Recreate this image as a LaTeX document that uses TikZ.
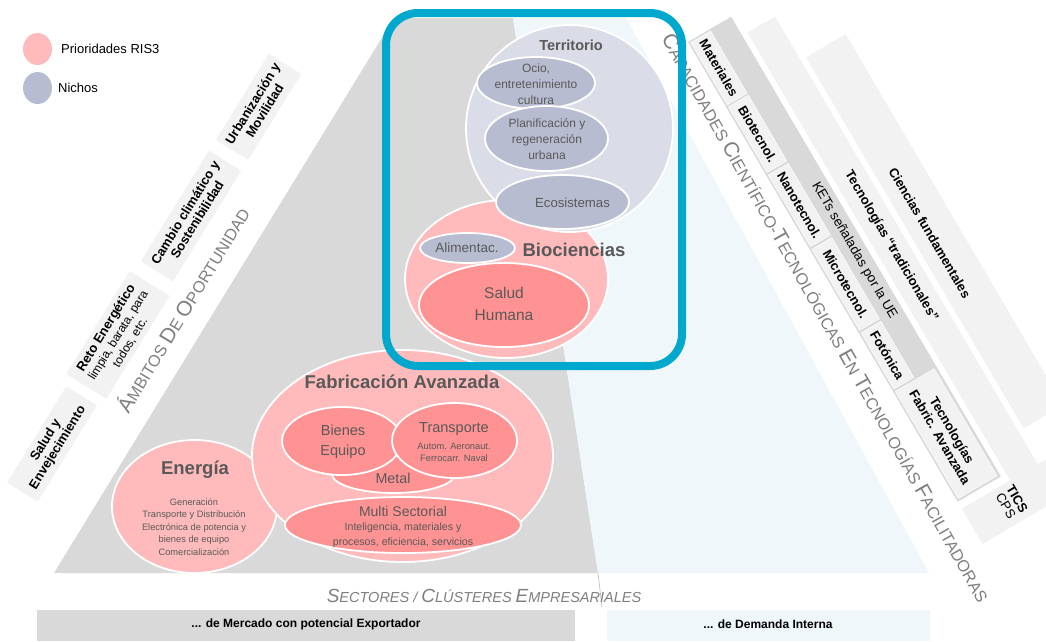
\documentclass[tikz,border=0pt]{standalone}
\usepackage{fontspec}
\setmainfont{Liberation Sans}
\usetikzlibrary{shapes.geometric}
\definecolor{gtri}{HTML}{D9D9D9}
\definecolor{btri}{HTML}{EFF7FA}
\definecolor{lbox}{HTML}{F2F2F2}
\definecolor{pinkL}{HTML}{FFBBBB}
\definecolor{pinkD}{HTML}{FF9292}
\definecolor{nicho}{HTML}{B7BCD0}
\definecolor{terr}{HTML}{DADDE7}
\definecolor{tealc}{HTML}{00A8CE}
\definecolor{txtg}{HTML}{595959}
\definecolor{capg}{HTML}{7F7F7F}
\newcommand\fsz[2]{\fontsize{#1}{#2}\selectfont}
\newcommand\bigL[1]{{\fsz{21}{21}#1}}
\newcommand\smL[1]{{\fsz{16.3}{16}#1}}
\newcommand\bigS[1]{{\fsz{19}{19}#1}}
\newcommand\smS[1]{{\fsz{14.5}{14}#1}}
\tikzset{
 ell/.style={ellipse, draw=white, line width=1.8pt, inner sep=0pt},
 lbx/.style={fill=lbox, inner sep=0pt, align=center, font=\fsz{13}{14}\bfseries, rotate=58.4},
 rbx/.style={fill=lbox, draw=white!55!lbox, line width=0.8pt, inner sep=0pt, align=center, font=\fsz{13}{14}\bfseries},
 ctx/.style={text=txtg, align=center, inner sep=0pt},
 bartxt/.style={font=\fsz{12}{14}\bfseries, inner sep=0pt},
}
\begin{document}
\begin{tikzpicture}[x=1pt,y=-1pt]
\useasboundingbox (0,0) rectangle (1046,641);
\clip (0,0) rectangle (1046,641);
\fill[white] (0,0) rectangle (1046,641);
% triangles
\fill[gtri] (54,573) -- (394,18) -- (513,18) -- (598,573) -- cycle;
\fill[btri] (513,18) -- (626,18) -- (929,573) -- (598,573) -- cycle;
\coordinate (dtop) at (598,573);
\coordinate (dbot) at (602,607);
\draw[gray!55, line width=0.6pt] (dtop) -- (dbot);
% bottom bars
\fill[gtri] (37,610) rectangle (575,641);
\fill[btri] (607,610) rectangle (930,641);
\node[bartxt] (exp) at (306,624) {... de Mercado con potencial Exportador};
\node[bartxt] (dem) at (768,624) {... de Demanda Interna};
\node[text=capg, font=\fsz{14.5}{16}\itshape, inner sep=0pt] (sect) at (484,596)
  {\bigS{S}\smS{ECTORES} / \bigS{C}\smS{LÚSTERES} \bigS{E}\smS{MPRESARIALES}};
% legend
\node[ellipse, fill=pinkL, minimum width=29pt, minimum height=32pt, inner sep=0pt] (lgp) at (37.5,49) {};
\node[ellipse, fill=nicho, minimum width=29pt, minimum height=32pt, inner sep=0pt] (lgn) at (37.5,88) {};
\node[anchor=west, font=\fsz{13}{14}, inner sep=0pt] (lgpt) at (61,49) {Prioridades RIS3};
\node[anchor=west, font=\fsz{13}{14}, inner sep=0pt] (lgnt) at (58,88) {Nichos};
% left boxes
\node[lbx, minimum width=113pt, minimum height=36pt] (salud) at (52,444) {Salud y\\Envejecimiento};
\node[lbx, minimum width=121pt, minimum height=47pt] (reto) at (118,335)
  {Reto Energético\\{\fsz{12}{13}\mdseries limpia, barata, para}\\{\fsz{12}{13}\mdseries todos, etc.}};
\node[lbx, minimum width=130pt, minimum height=38pt] (cambio) at (191,216) {Cambio climático y\\Sostenibilidad};
\node[lbx, minimum width=101pt, minimum height=38pt] (urb) at (258.5,107) {Urbanización y\\Movilidad};
% right bars
\begin{scope}[shift={(688,42)}, rotate=-59.6, y=1pt, transform shape]
 \fill[lbox] (73,94) rectangle (503,140);
 \fill[lbox] (22,56) rectangle (541,88);
 \fill[lbox] (541,0) rectangle (582,140);
 \fill[gtri] (0,0) rectangle (533,50);
 \node[rbx, minimum width=72pt, minimum height=23pt] (mat) at (38,13.5) {Materiales};
 \node[rbx, minimum width=76pt, minimum height=23pt] (bio) at (114.5,13.5) {Biotecnol.};
 \node[rbx, minimum width=83pt, minimum height=23pt] (nano) at (197,13.5) {Nanotecnol.};
 \node[rbx, minimum width=94pt, minimum height=23pt] (micro) at (288.5,13.5) {Microtecnol.};
 \node[rbx, minimum width=65pt, minimum height=23pt] (foto) at (371,13.5) {Fotónica};
 \node[rbx, minimum width=124pt, minimum height=45pt] (tfa) at (468.5,24.5) {Tecnologías\\Fabric. Avanzada};
 \node[font=\fsz{13.4}{15}, inner sep=0pt] (ket) at (264,38) {KETs señaladas por la UE};
 \node[font=\fsz{13}{15}\bfseries, inner sep=0pt] (trad) at (279,72) {Tecnologías “tradicionales”};
 \node[font=\fsz{13}{15}\bfseries, inner sep=0pt] (cien) at (287,112) {Ciencias fundamentales};
 \node[font=\fsz{13}{13}, align=center, inner sep=0pt] (tics) at (561,46) {{\bfseries TICS}\\CPS};
\end{scope}
% axis titles
\node[text=capg, font=\fsz{16.3}{18}, rotate=58.7, inner sep=0pt] (amb) at (182,309)
  {\bigL{Á}\smL{MBITOS} \bigL{D}\smL{E} \bigL{O}\smL{PORTUNIDAD}};
\node[text=capg, font=\fsz{16.3}{18}, rotate=-60.7, inner sep=0pt] (cap) at (826,318)
  {\bigL{C}\smL{APACIDADES} \bigL{C}\smL{IENTÍFICO-}\bigL{T}\smL{ECNOLÓGICAS} \bigL{E}\smL{N} \bigL{T}\smL{ECNOLOGÍAS} \bigL{F}\smL{ACILITADORAS}};
% Energia
\node[ell, fill=pinkL, minimum width=165pt, minimum height=133pt] (ene) at (194.5,506.5) {};
% Fabricacion
\node[ell, fill=pinkL, minimum width=301pt, minimum height=212pt] (fab) at (402.5,456) {};
\node[ell, fill=pinkD, minimum width=123pt, minimum height=38pt] (metal) at (393.5,474) {};
\node[ell, fill=pinkD, minimum width=120pt, minimum height=68pt] (bienes) at (342,441) {};
\node[ell, fill=pinkD, minimum width=125pt, minimum height=75pt] (transp) at (454.5,440.5) {};
\node[ell, fill=pinkD, minimum width=236pt, minimum height=56pt] (multi) at (403,525) {};
% Biociencias and Territorio
\node[ell, fill=pinkL, minimum width=203pt, minimum height=158pt] (bioc) at (506.5,279) {};
\node[ell, fill=terr, minimum width=207pt, minimum height=207pt] (terr) at (569.5,128.5) {};
\node[ell, fill=nicho, minimum width=118pt, minimum height=52pt] (ocio) at (536,83) {};
\node[ell, fill=nicho, minimum width=123pt, minimum height=65pt] (plan) at (546.5,138.5) {};
\node[ell, fill=nicho, minimum width=133pt, minimum height=54pt] (eco) at (562.5,202) {};
\node[ell, fill=nicho, minimum width=95pt, minimum height=30pt] (alim) at (467.5,248) {};
\node[ell, fill=pinkD, minimum width=170pt, minimum height=84pt] (salh) at (504,305) {};
% texts in circles
\node[ctx, font=\fsz{18.5}{20}\bfseries] (enet) at (195,470) {Energía};
\node[ctx, font=\fsz{9.3}{12.5}] (enes) at (194,527) {Generación\\Transporte y Distribución\\Electrónica de potencia y\\bienes de equipo\\Comercialización};
\node[ctx, font=\fsz{18.5}{20}\bfseries] (fabt) at (402,382) {Fabricación Avanzada};
\node[ctx, font=\fsz{14.5}{20}] (bient) at (343,442) {Bienes\\Equipo};
\node[ctx, font=\fsz{14.5}{16}] (transt) at (454,429) {Transporte};
\node[ctx, font=\fsz{9.3}{12}] (transs) at (454,452) {Autom. Aeronaut.\\Ferrocarr. Naval};
\node[ctx, font=\fsz{14.3}{16}] (metalt) at (393,478) {Metal};
\node[ctx, font=\fsz{14}{16}] (multit) at (403,511) {Multi Sectorial};
\node[ctx, font=\fsz{10.6}{15}] (multis) at (403,535.5) {Inteligencia, materiales y\\procesos, eficiencia, servicios};
\node[ctx, font=\fsz{14.5}{16}\bfseries] (terrt) at (571,45) {Territorio};
\node[ctx, font=\fsz{12}{16}] (ociot) at (536,84) {Ocio,\\entretenimiento\\cultura};
\node[ctx, font=\fsz{12}{16}] (plant) at (547,139) {Planificación y\\regeneración\\urbana};
\node[ctx, font=\fsz{13.2}{15}] (ecot) at (572.5,203) {Ecosistemas};
\node[ctx, font=\fsz{13.5}{15}] (alimt) at (467,248) {Alimentac.};
\node[ctx, font=\fsz{18.5}{20}\bfseries] (biot) at (574,250) {Biociencias};
\node[ctx, font=\fsz{15.5}{22}] (salt) at (504,304) {Salud\\Humana};
% teal frame
\draw[tealc, line width=8pt, rounded corners=32pt] (386,13) rectangle (682,366);
\end{tikzpicture}
\end{document}
